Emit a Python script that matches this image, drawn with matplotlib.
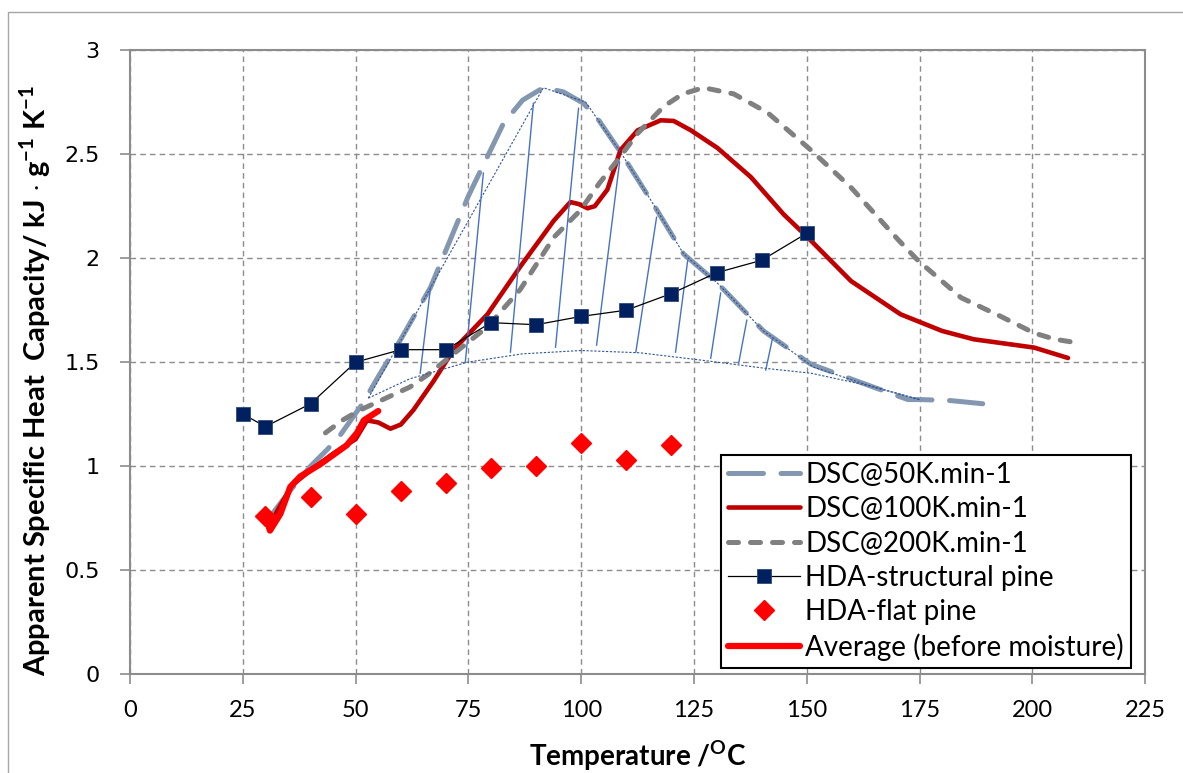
import matplotlib
matplotlib.use("Agg")
import matplotlib.pyplot as plt
from matplotlib.patches import Rectangle

# ─── Datos ────────────────────────────────────────────────────────
dsc50_T = [31.5, 35, 40, 43.7, 46.6, 51.5, 55, 60, 66.6, 75, 82.8, 87, 91.6, 96,
           100.5, 104, 108.7, 115.4, 122.7, 130.2, 140.4, 150.9, 163.5, 172.4,
           175.3, 182, 189]
dsc50_C = [0.77, 0.87, 1.0, 1.08, 1.15, 1.30, 1.43, 1.61, 1.86, 2.30, 2.65, 2.76,
           2.82, 2.80, 2.745, 2.66, 2.51, 2.28, 2.02, 1.88, 1.65, 1.49, 1.39, 1.32,
           1.32, 1.315, 1.30]

dsc100_T = [31, 33, 36, 40, 45, 50, 52.5, 55, 57.7, 60, 62.8, 67.3, 71.7, 79.2,
            86.5, 93.9, 97.6, 99.5, 101.4, 103, 105.8, 108.7, 112.5, 117.6, 120.5,
            124.3, 130.2, 137.6, 144.9, 150.2, 159.8, 170.8, 180, 187, 200.4, 207.9]
dsc100_C = [0.72, 0.80, 0.91, 0.98, 1.06, 1.13, 1.22, 1.21, 1.18, 1.20, 1.27, 1.41,
            1.56, 1.73, 1.96, 2.18, 2.27, 2.26, 2.24, 2.25, 2.33, 2.52, 2.615, 2.663,
            2.66, 2.615, 2.53, 2.39, 2.21, 2.10, 1.89, 1.73, 1.65, 1.61, 1.57, 1.52]

dsc200_T = [43.3, 47, 51, 56, 62, 66, 71.7, 79.2, 86.5, 93.9, 99.8, 104, 108.7,
            112.5, 118.3, 122.5, 127.1, 133.8, 141.3, 150.9, 159.8, 170.2, 174.6,
            184.2, 193, 200.4, 205, 210.8]
dsc200_C = [1.16, 1.22, 1.27, 1.32, 1.38, 1.44, 1.54, 1.67, 1.85, 2.10, 2.23, 2.36,
            2.49, 2.60, 2.73, 2.79, 2.82, 2.79, 2.70, 2.52, 2.34, 2.09, 1.99, 1.81,
            1.72, 1.64, 1.61, 1.59]

hda_struct_T = [25, 30, 40, 50, 60, 70, 80, 90, 100, 110, 120, 130, 140, 150]
hda_struct_C = [1.25, 1.19, 1.30, 1.50, 1.56, 1.56, 1.69, 1.68, 1.72, 1.75, 1.83,
                1.93, 1.99, 2.12]

hda_flat_T = [30, 40, 50, 60, 70, 80, 90, 100, 110, 120]
hda_flat_C = [0.76, 0.85, 0.77, 0.88, 0.92, 0.99, 1.00, 1.11, 1.03, 1.10]

avg_T = [30, 31, 33.3, 35.5, 37.7, 42.2, 48, 50.3, 51.8, 55]
avg_C = [0.76, 0.69, 0.77, 0.90, 0.95, 1.01, 1.10, 1.16, 1.22, 1.265]

# zona rayada (anotación sobre el pico)
outline_T = [52.8, 91.6, 101, 108.7, 115.4, 122.7, 130.2, 140.4, 151.5, 163.5, 175]
outline_C = [1.327, 2.82, 2.75, 2.51, 2.28, 2.02, 1.88, 1.65, 1.476, 1.39, 1.32]
base_T = [52.8, 62, 74.8, 87, 100, 113, 126.5, 140.9, 150.9, 163, 175]
base_C = [1.327, 1.42, 1.50, 1.54, 1.556, 1.545, 1.51, 1.47, 1.447, 1.39, 1.32]
hatch_T0 = [64.3, 74.3, 84.3, 94.3, 103.4, 112.1, 120.9, 128.7, 134.9, 140.9]
hatch_C0 = [1.447, 1.50, 1.548, 1.572, 1.582, 1.548, 1.548, 1.519, 1.495, 1.462]
hatch_T1 = [66.6, 78.3, 89.4, 99.4, 108.5, 116.7, 123.6, 130.9, 136.7, 142.4]
hatch_C1 = [1.861, 2.409, 2.745, 2.721, 2.462, 2.197, 1.99, 1.832, 1.702, 1.615]

x_ticks = list(range(0, 226, 25))
y_ticks = [0, 0.5, 1, 1.5, 2, 2.5, 3]
y_ticklabels = ['0', '0.5', '1', '1.5', '2', '2.5', '3']

# ─── Estilo ───────────────────────────────────────────────────────
plt.rcParams['font.family'] = ['Lato', 'DejaVu Sans']
plt.rcParams['mathtext.fontset'] = 'custom'
plt.rcParams['mathtext.rm'] = 'Lato'
plt.rcParams['mathtext.bf'] = 'Lato:bold'

fig = plt.figure(figsize=(11.83, 7.73), dpi=100)
ax = fig.add_axes([0.110, 0.128, 0.858, 0.807])

# marco exterior
fig.patches.append(Rectangle((8 / 1183, -0.1), 1.2, 0.1 + 1 - 12 / 773,
                             transform=fig.transFigure, fill=False,
                             edgecolor='#a6a6a6', lw=1.0))

ax.plot(dsc50_T, dsc50_C, color='#8497B0', lw=3.6, dashes=(7, 3.5),
        dash_capstyle='round', label='DSC@50K.min-1', zorder=3)
ax.plot(dsc100_T, dsc100_C, color='#C00000', lw=3.3, solid_capstyle='round',
        label='DSC@100K.min-1', zorder=3)
ax.plot(dsc200_T, dsc200_C, color='#808080', lw=3.6, dashes=(2, 2.4),
        dash_capstyle='round', label='DSC@200K.min-1', zorder=3)
ax.plot(hda_struct_T, hda_struct_C, color='black', lw=0.9, marker='s', ms=10,
        mfc='#002060', mec='#2E4A7A', mew=0.6, label='HDA-structural pine', zorder=5)
ax.plot(hda_flat_T, hda_flat_C, ls='none', marker='D', ms=10, color='#FF0000',
        label='HDA-flat pine', zorder=5)
ax.plot(avg_T, avg_C, color='#FF0000', lw=4.5, solid_capstyle='round',
        label='Average (before moisture)', zorder=4)

# anotación rayada
ax.plot(outline_T, outline_C, color='#2F5597', lw=0.8, ls=(0, (2, 1.5)), zorder=4)
ax.plot(base_T, base_C, color='#2F5597', lw=0.8, ls=(0, (2, 1.5)), zorder=4)
for t0, c0, t1, c1 in zip(hatch_T0, hatch_C0, hatch_T1, hatch_C1):
    ax.plot([t0, t1], [c0, c1], color='#4472C4', lw=1.0, zorder=4)

ax.set_xlim(0, 225)
ax.set_ylim(0, 3)
ax.set_xticks(x_ticks)
ax.set_yticks(y_ticks)
ax.set_yticklabels(y_ticklabels, family='DejaVu Sans', fontsize=16)
ax.grid(True, color='#8c8c8c', ls=(0, (4, 3)), lw=1.0)
ax.set_axisbelow(True)
for s in ax.spines.values():
    s.set_color('#8c8c8c')
    s.set_linewidth(1.5)
ax.tick_params(axis='both', length=7, width=1.2, color='#8c8c8c')
ax.tick_params(axis='x', labelsize=17, pad=12)
ax.tick_params(axis='y', pad=15)

ax.set_xlabel('Temperature /$^{\\mathbf{O}}$C', fontsize=20, fontweight='bold', labelpad=12)
ax.set_ylabel('Apparent Specific Heat  Capacity/ kJ $\\cdot$ g$^{\\mathbf{-1}}$ K$^{\\mathbf{-1}}$',
              fontsize=21, fontweight='bold')
ax.yaxis.set_label_coords(-0.076, 0.47)

leg = ax.legend(loc='lower right', bbox_to_anchor=(0.986, 0.0096), borderaxespad=0,
                fontsize=20, fancybox=False, framealpha=1, edgecolor='black',
                handlelength=2.6, handletextpad=0.2, labelspacing=0.3,
                borderpad=0.25)
leg.get_frame().set_linewidth(1.5)

fig.savefig('out.png', dpi=100)
